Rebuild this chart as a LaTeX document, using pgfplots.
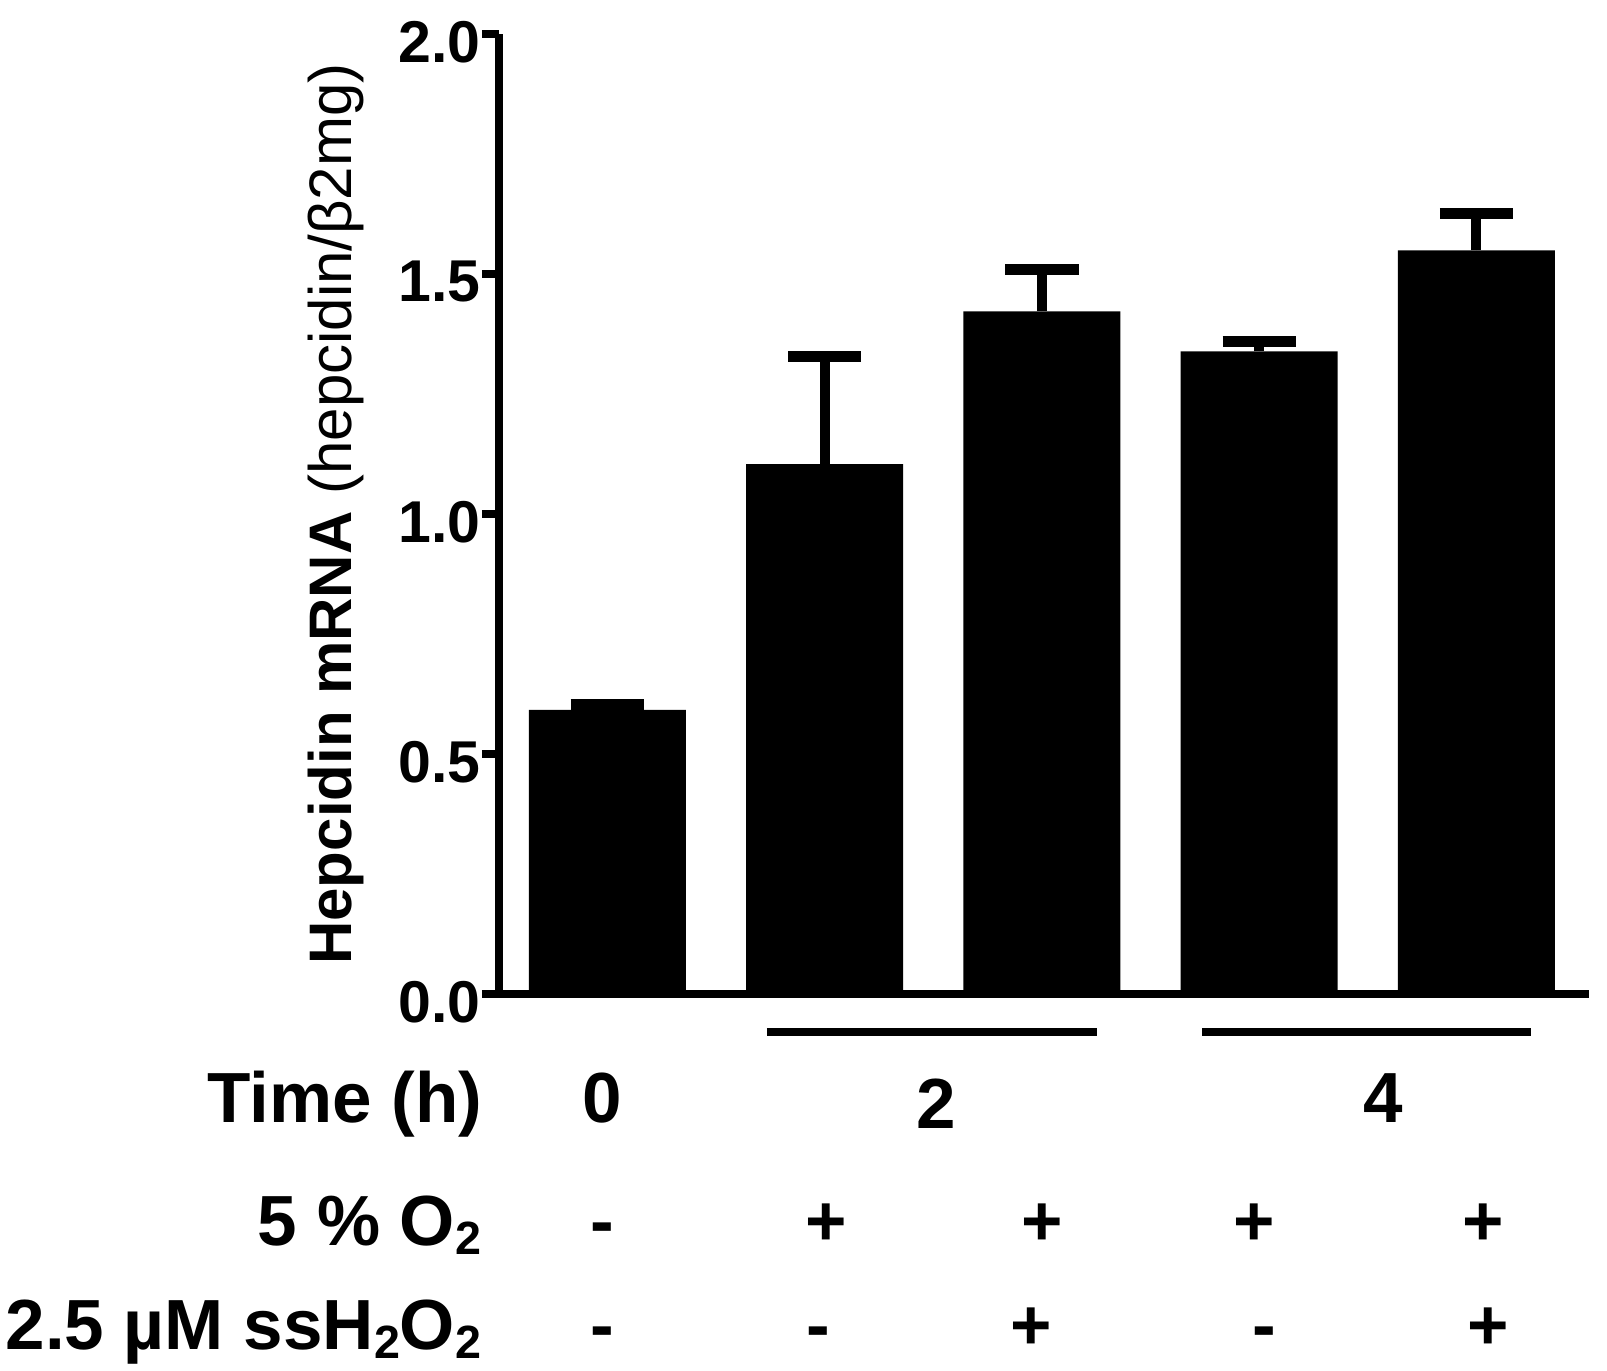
\documentclass[border=0pt]{standalone}
\usepackage{fontspec}
\setmainfont{Liberation Sans}
\usepackage{pgfplots}
\pgfplotsset{compat=1.18}
\newcommand\sub[1]{\raisebox{-0.13em}{\fontsize{14}{14}\selectfont #1}}
\newcommand\rowfont{\fontsize{21.3}{24}\selectfont\bfseries}
\begin{document}
\begin{tikzpicture}
\useasboundingbox (-149.7pt,-113.1pt) rectangle (332.4pt,298.2pt);
\begin{axis}[
  at={(0,0)}, anchor=south west,
  scale only axis, width=327pt, height=288pt,
  xmin=-0.499, xmax=4.518, ymin=0, ymax=2,
  axis x line*=bottom, axis y line*=left,
  axis line style={line width=2.3pt, -},
  xtick=\empty,
  ytick={0,0.5,1,1.5,2},
  yticklabels={0.0,0.5,1.0,1.5,2.0},
  tick align=outside,
  major tick length=5.1pt,
  every tick/.style={line width=2.3pt, black},
  yticklabel style={font=\fontsize{17.7}{20}\selectfont\bfseries, yshift=-2.4pt, xshift=3pt},
  ylabel={{\bfseries Hepcidin mRNA} (hepcidin/β2mg)},
  every axis y label/.style={at={(axis description cs:-0.1349,0.5)}, rotate=90, anchor=base, font=\fontsize{18}{20}\selectfont},
  clip=false,
  ybar, bar width=0.7227,
]
\addplot[fill=black, draw=none,
  error bars/.cd, y dir=plus, y explicit,
  error bar style={line width=3pt, draw=black, solid},
  error mark=-,
  error mark options={rotate=90, draw=black, line width=3.3pt, mark size=11pt}]
 table[x=x, y=y, y error=e] {
x y e
0 0.592 0.011
1 1.104 0.224
2 1.422 0.088
3 1.339 0.020
4 1.549 0.077
};
% group lines
\draw[line width=2.3pt] (axis cs:0.734,-0.0792) -- (axis cs:2.253,-0.0792);
\draw[line width=2.3pt] (axis cs:2.737,-0.0792) -- (axis cs:4.249,-0.0792);
% Time row
\node[anchor=base east, font=\rowfont, inner sep=0pt] at (axis cs:-0.573,-0.2667) {Time (h)};
\node[anchor=base, font=\rowfont, inner sep=0pt] at (axis cs:-0.025,-0.2667) {0};
\node[anchor=base, font=\rowfont, inner sep=0pt] at (axis cs:1.512,-0.2792) {2};
\node[anchor=base, font=\rowfont, inner sep=0pt] at (axis cs:3.570,-0.2667) {4};
% O2 row
\node[anchor=base east, font=\rowfont, inner sep=0pt] at (axis cs:-0.578,-0.523) {5 \% O\sub{2}};
\node[anchor=base, font=\rowfont, inner sep=0pt] at (axis cs:-0.025,-0.523) {-};
\node[anchor=base, font=\rowfont, inner sep=0pt] at (axis cs:1.006,-0.523) {+};
\node[anchor=base, font=\rowfont, inner sep=0pt] at (axis cs:2.000,-0.523) {+};
\node[anchor=base, font=\rowfont, inner sep=0pt] at (axis cs:2.976,-0.523) {+};
\node[anchor=base, font=\rowfont, inner sep=0pt] at (axis cs:4.030,-0.523) {+};
% H2O2 row
\node[anchor=base east, font=\rowfont, inner sep=0pt] at (axis cs:-0.578,-0.740) {2.5 µM ssH\sub{2}O\sub{2}};
\node[anchor=base, font=\rowfont, inner sep=0pt] at (axis cs:-0.025,-0.740) {-};
\node[anchor=base, font=\rowfont, inner sep=0pt] at (axis cs:0.969,-0.740) {-};
\node[anchor=base, font=\rowfont, inner sep=0pt] at (axis cs:1.949,-0.740) {+};
\node[anchor=base, font=\rowfont, inner sep=0pt] at (axis cs:3.022,-0.740) {-};
\node[anchor=base, font=\rowfont, inner sep=0pt] at (axis cs:4.053,-0.740) {+};
\end{axis}
\end{tikzpicture}
\end{document}
